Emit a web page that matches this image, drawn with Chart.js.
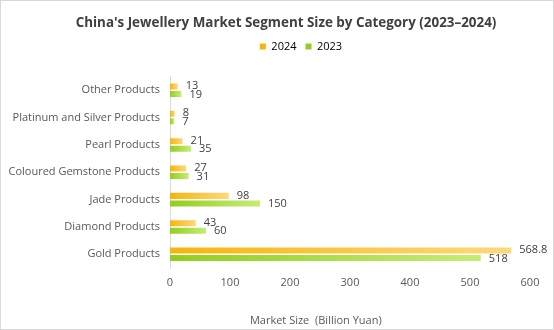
<!DOCTYPE html>
<html>
<head>
<meta charset="utf-8">
<script src="https://cdn.jsdelivr.net/npm/chart.js@4.4.1/dist/chart.umd.min.js"></script>
<style>
  html, body { margin: 0; padding: 0; background: #ffffff; }
  #wrap { width: 554px; height: 330px; }
</style>
</head>
<body>
<div id="wrap"><canvas id="c" width="554" height="330"></canvas></div>
<script>
const categories = ["Other Products", "Platinum and Silver Products", "Pearl Products", "Coloured Gemstone Products", "Jade Products", "Diamond Products", "Gold Products"];
const values2024 = [13, 8, 21, 27, 98, 43, 568.8];
const values2023 = [19, 7, 35, 31, 150, 60, 518];
const seriesNames = ["2024", "2023"];
const xTicks = [0, 100, 200, 300, 400, 500, 600];

const FONT = "'Open Sans', 'Noto Sans', sans-serif";
const gradStops = [
  ["#f4b50c", "#fdd97e"],
  ["#93cd1f", "#c7ec76"]
];

function barGradient(context) {
  const chart = context.chart;
  const ds = context.datasetIndex;
  const stops = gradStops[ds];
  if (context.dataIndex === undefined || !chart.chartArea || !chart.scales.x) return stops[0];
  const v = context.raw;
  const xs = chart.scales.x;
  const x0 = xs.getPixelForValue(0);
  const x1 = xs.getPixelForValue(v);
  if (!isFinite(x0) || !isFinite(x1) || x1 - x0 < 1) return stops[0];
  const g = chart.ctx.createLinearGradient(x0, 0, x1, 0);
  g.addColorStop(0, stops[0]);
  g.addColorStop(1, stops[1]);
  return g;
}

const borderPlugin = {
  id: 'outerBorder',
  beforeDraw(chart) {
    const ctx = chart.ctx;
    ctx.save();
    ctx.fillStyle = '#ffffff';
    ctx.fillRect(0, 0, chart.width, chart.height);
    ctx.strokeStyle = '#d9d9d9';
    ctx.lineWidth = 1;
    ctx.strokeRect(0.5, 0.5, chart.width - 1, chart.height - 1);
    ctx.restore();
  }
};

const labelPlugin = {
  id: 'valueLabels',
  afterDatasetsDraw(chart) {
    const ctx = chart.ctx;
    ctx.save();
    ctx.font = "11px " + FONT;
    ctx.fillStyle = '#404040';
    ctx.textAlign = 'left';
    ctx.textBaseline = 'middle';
    chart.data.datasets.forEach((ds, di) => {
      const meta = chart.getDatasetMeta(di);
      meta.data.forEach((el, i) => {
        ctx.fillText(String(ds.data[i]), el.x + 8, el.y + (di === 0 ? -0.5 : 0.5));
      });
    });
    ctx.restore();
  }
};

const axisTitlePlugin = {
  id: 'axisTitle',
  afterDraw(chart) {
    const ctx = chart.ctx;
    const a = chart.chartArea;
    ctx.save();
    ctx.font = "11px " + FONT;
    ctx.fillStyle = '#595959';
    ctx.textAlign = 'center';
    ctx.textBaseline = 'middle';
    ctx.fillText("Market Size\u00a0 (Billion Yuan)", a.left + (a.right - a.left) * 0.405, chart.height - 9);
    ctx.restore();
  }
};

const shiftPlugin = {
  id: 'shiftBoxes',
  afterInit(chart) {
    const lg = chart.legend;
    if (lg) {
      const of = lg.fit.bind(lg);
      lg.fit = function () { of(); this.height += 14.5; };
      const od = lg.draw.bind(lg);
      lg.draw = function () { const c = chart.ctx; c.save(); c.translate(36, 0); od(); c.restore(); };
    }
    const tt = chart.titleBlock;
    if (tt) {
      const od2 = tt.draw.bind(tt);
      tt.draw = function () { const c = chart.ctx; c.save(); c.translate(21, 0); od2(); c.restore(); };
    }
  }
};

new Chart(document.getElementById('c'), {
  type: 'bar',
  data: {
    labels: categories,
    datasets: [
      { label: seriesNames[0], data: values2024, backgroundColor: barGradient, borderWidth: 0 },
      { label: seriesNames[1], data: values2023, backgroundColor: barGradient, borderWidth: 0 }
    ]
  },
  options: {
    indexAxis: 'y',
    responsive: false,
    animation: false,
    devicePixelRatio: 1,
    categoryPercentage: 0.55,
    barPercentage: 0.8,
    layout: { padding: { left: 0, right: 24, top: 0, bottom: 0 } },
    plugins: {
      title: {
        display: true,
        text: "China's Jewellery Market Segment Size by Category (2023\u20132024)",
        color: '#404040',
        font: { family: FONT, size: 13.4, weight: 'bold' },
        padding: { top: 15, bottom: 1 }
      },
      legend: {
        display: true,
        position: 'top',
        labels: {
          boxWidth: 6,
          boxHeight: 6,
          padding: 9,
          color: '#595959',
          font: { family: FONT, size: 11 },
          generateLabels(chart) {
            return chart.data.datasets.map((ds, i) => ({
              text: ds.label,
              fillStyle: gradStops[i][0],
              strokeStyle: gradStops[i][0],
              lineWidth: 0,
              hidden: false,
              datasetIndex: i
            }));
          }
        }
      },
      tooltip: { enabled: false }
    },
    scales: {
      x: {
        type: 'linear',
        min: 0,
        max: 600,
        afterBuildTicks(scale) { scale.ticks = xTicks.map(v => ({ value: v })); },
        afterFit(scale) { scale.height = 62; },
        grid: { display: false, drawTicks: false },
        border: { display: false },
        ticks: { color: '#595959', font: { family: FONT, size: 11 }, padding: 8 }
      },
      y: {
        afterFit(scale) { scale.width = 170; },
        grid: { display: false, drawTicks: false },
        border: { display: true, color: '#d9d9d9', width: 1 },
        ticks: { color: '#595959', font: { family: FONT, size: 11 }, padding: 10 }
      }
    }
  },
  plugins: [borderPlugin, labelPlugin, axisTitlePlugin, shiftPlugin]
});
</script>
</body>
</html>
